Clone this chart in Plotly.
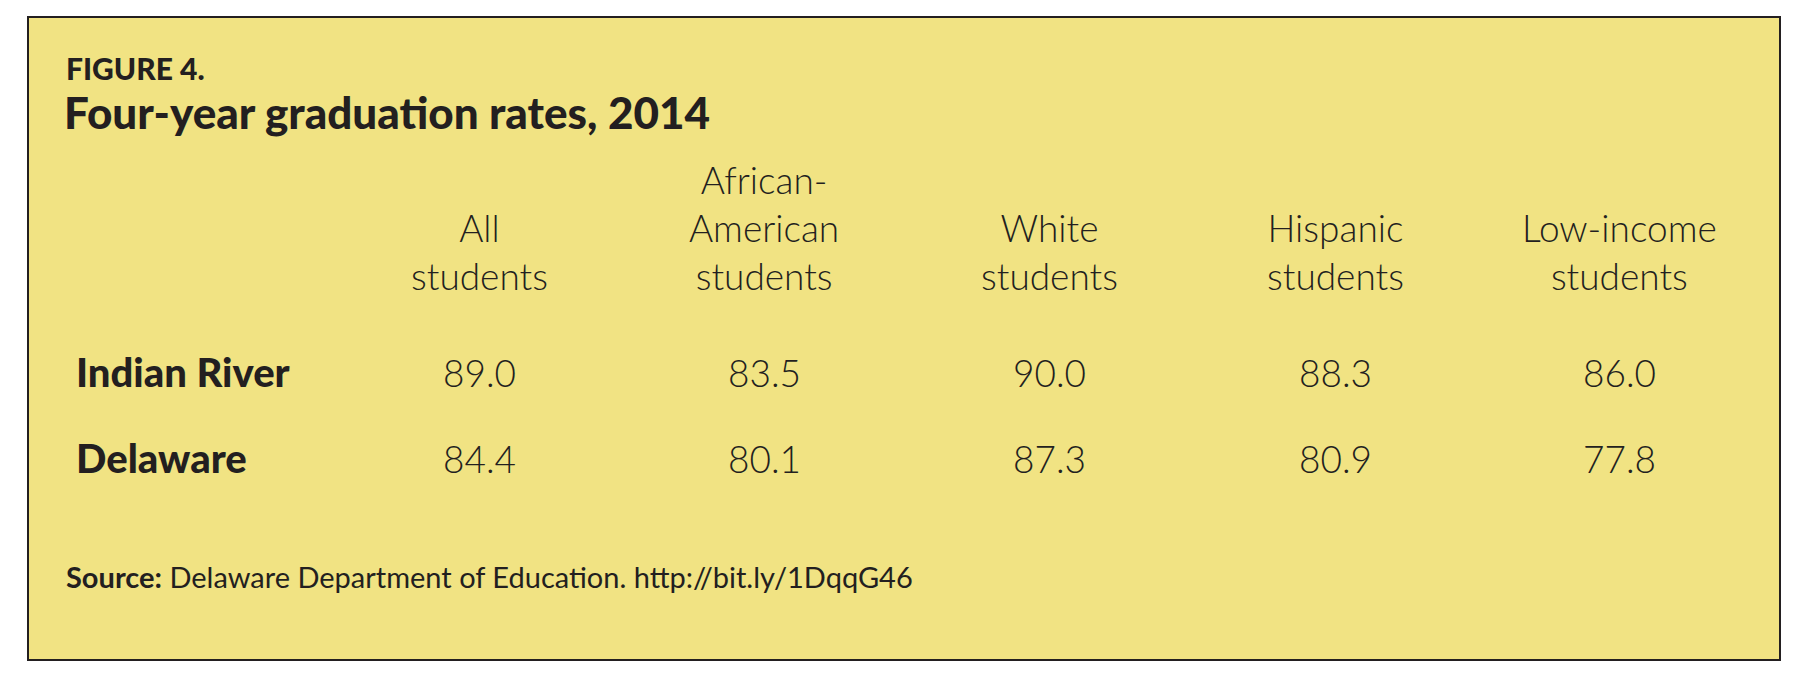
import plotly.graph_objects as go

columns = ["All<br>students", "African-<br>American<br>students", "White<br>students",
           "Hispanic<br>students", "Low-income<br>students"]
rows = ["Indian River", "Delaware"]
indian_river = ["89.0", "83.5", "90.0", "88.3", "86.0"]
delaware = ["84.4", "80.1", "87.3", "80.9", "77.8"]
values = [indian_river, delaware]

W, H = 1799, 675
col_x = [471, 756, 1041, 1327, 1611]
row_y = [364, 450]
ink = "#231f20"

fig = go.Figure()
fig.add_shape(type="rect", x0=20, x1=1772, y0=9, y1=652, fillcolor="#f1e383",
              line=dict(color=ink, width=2), layer="below")

ann = []
ann.append(dict(x=56, y=60, text="FIGURE 4.", xanchor="left", yanchor="middle",
                font=dict(family="Lato", size=30, color=ink, weight=900)))
ann.append(dict(x=54, y=104, text="Four-year graduation rates, 2014", xanchor="left",
                yanchor="middle", font=dict(family="Lato", size=44, color=ink, weight=900)))
for x, c in zip(col_x, columns):
    ann.append(dict(x=x, y=292, text=c, xanchor="center", yanchor="bottom",
                    font=dict(family="Lato", size=37, color=ink, weight=300)))
for y, r, vals in zip(row_y, rows, values):
    ann.append(dict(x=66, y=y, text=r, xanchor="left", yanchor="middle",
                    font=dict(family="Lato", size=40, color=ink, weight=900)))
    for x, v in zip(col_x, vals):
        ann.append(dict(x=x, y=y, text=v, xanchor="center", yanchor="middle",
                        font=dict(family="Lato", size=37, color=ink, weight=300)))
ann.append(dict(x=56, y=568, text="<b>Source:</b> Delaware Department of Education. http://bit.ly/1DqqG46",
                xanchor="left", yanchor="middle", font=dict(family="Lato", size=29, color=ink)))
for a in ann:
    a.update(showarrow=False, xref="x", yref="y")

fig.update_layout(width=W, height=H, margin=dict(l=0, r=0, t=0, b=0),
                  paper_bgcolor="white", plot_bgcolor="white", annotations=ann,
                  xaxis=dict(range=[0, W], visible=False, fixedrange=True),
                  yaxis=dict(range=[H, 0], visible=False, fixedrange=True),
                  showlegend=False)
fig.write_html("out.html")
